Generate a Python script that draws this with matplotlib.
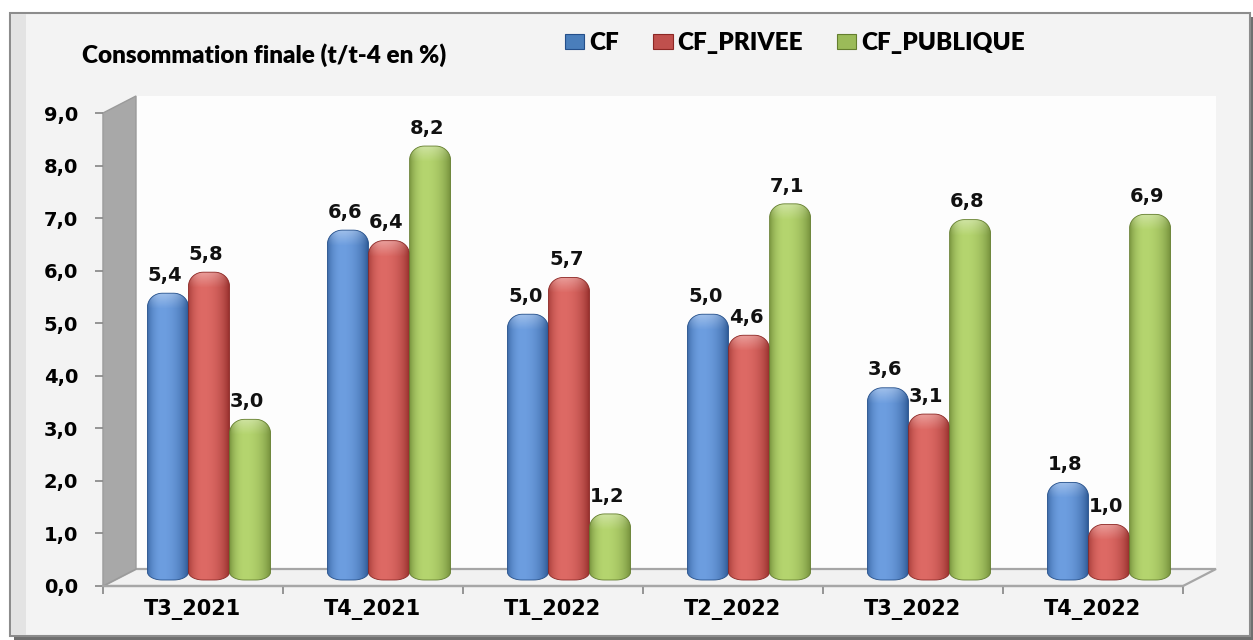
import numpy as np
import matplotlib
matplotlib.use('Agg')
import matplotlib.pyplot as plt
from matplotlib.patches import Polygon, Rectangle, PathPatch, Patch
from matplotlib.path import Path
from matplotlib.transforms import ScaledTranslation
import matplotlib.colors as mcolors

# ---------------- data ----------------
categories = ['T3_2021', 'T4_2021', 'T1_2022', 'T2_2022', 'T3_2022', 'T4_2022']
cf = [5.4, 6.6, 5.0, 5.0, 3.6, 1.8]
cf_privee = [5.8, 6.4, 5.7, 4.6, 3.1, 1.0]
cf_publique = [3.0, 8.2, 1.2, 7.1, 6.8, 6.9]
series_names = ['CF', 'CF_PRIVEE', 'CF_PUBLIQUE']
y_ticks = [0, 1, 2, 3, 4, 5, 6, 7, 8, 9]
title = 'Consommation finale (t/t-4 en %)'

series = [cf, cf_privee, cf_publique]
# (dark edge, light middle, legend colour)
palette = [('#244f8a', '#6d9ee0', '#4a7ebb'),
           ('#8c2724', '#de6a65', '#c0504d'),
           ('#647e2e', '#b5d56f', '#9bbb59')]

W, H = 1253, 640
fig = plt.figure(figsize=(W / 100, H / 100), dpi=100)
fig.patch.set_facecolor('white')

def fx(x):
    return x / W

def fy(y):
    return 1 - y / H

# plot box (front) in pixels and 3-D depth offset
L, R, T, B = 103, 1183, 113, 586
DX, DY = 33, 17

# ---------------- frame & walls ----------------
fig.add_artist(Rectangle((fx(14), fy(640)), fx(1253) - fx(14), fy(17) - fy(640),
                         transform=fig.transFigure, facecolor='#6f6f6f',
                         edgecolor='none', zorder=-10))
fig.add_artist(Rectangle((fx(10), fy(636)), fx(1250) - fx(10), fy(13) - fy(636),
                         transform=fig.transFigure, facecolor='#f3f3f3',
                         edgecolor='#8c8c8c', linewidth=1.5, zorder=-9))
fig.add_artist(Rectangle((fx(11), fy(635)), fx(26) - fx(11), fy(14) - fy(635),
                         transform=fig.transFigure, facecolor='#e3e3e3',
                         edgecolor='none', zorder=-8.5))
# back wall
fig.add_artist(Rectangle((fx(L + DX), fy(B - DY)), fx(R + DX) - fx(L + DX),
                         fy(T - DY) - fy(B - DY), transform=fig.transFigure,
                         facecolor='#fdfdfd', edgecolor='none', zorder=-8))
# floor
floor = [(L, B), (R, B), (R + DX, B - DY), (L + DX, B - DY)]
fig.add_artist(Polygon([(fx(a), fy(b)) for a, b in floor], closed=True,
                       transform=fig.transFigure, facecolor='#f1f1f1',
                       edgecolor='#a6a6a6', linewidth=1.6, zorder=-7))
# side wall
side = [(L, T), (L + DX, T - DY), (L + DX, B - DY), (L, B)]
fig.add_artist(Polygon([(fx(a), fy(b)) for a, b in side], closed=True,
                       transform=fig.transFigure, facecolor='#a8a8a8',
                       edgecolor='#9a9a9a', linewidth=1.0, zorder=-6))

# ---------------- axes ----------------
ax = fig.add_axes([fx(L), fy(B), (R - L) / W, (B - T) / H])
ax.patch.set_alpha(0)
ax.set_xlim(-0.5, len(categories) - 0.5)
ax.set_ylim(0, 9)
ax.set_autoscale_on(False)
for s in ['top', 'right']:
    ax.spines[s].set_visible(False)
ax.spines['left'].set_color('#a0a0a0')
ax.spines['bottom'].set_color('#a6a6a6')
ax.spines['bottom'].set_linewidth(1.6)

ax.set_yticks(y_ticks)
ax.set_yticklabels([f'{v:.1f}'.replace('.', ',') for v in y_ticks])
ax.tick_params(axis='y', length=6, width=1.3, color='#8c8c8c', pad=12,
               labelsize=14)
for lab in ax.get_yticklabels():
    lab.set_fontweight('bold')

x = np.arange(len(categories))
ax.set_xticks(np.arange(-0.5, len(categories), 1.0))
ax.set_xticklabels([])
ax.set_xticks(x, minor=True)
ax.set_xticklabels(categories, minor=True)
ax.tick_params(axis='x', which='major', length=6, width=1.3, color='#8c8c8c',
               direction='out')
ax.tick_params(axis='x', which='minor', length=0, pad=9, labelsize=15)
for lab in ax.get_xticklabels(minor=True):
    lab.set_fontweight('bold')

# bars sit in the middle depth of the 3-D box
bar_trans = ax.transData + ScaledTranslation(16 / 100, 9 / 100,
                                             fig.dpi_scale_trans)
px_per_unit_y = (B - T) / 9.0
bw = 0.228
rx = 0.36 * bw
ry_top = 14 / px_per_unit_y
ry_bot = 8 / px_per_unit_y
y_bottom = -3 / px_per_unit_y


def rounded_bar_path(x0, x1, y0, y1):
    n = 14
    verts = []
    verts.append((x0, y0 + ry_bot))
    verts.append((x0, y1 - ry_top))
    cx, cy = x0 + rx, y1 - ry_top
    for t in np.linspace(np.pi, np.pi / 2, n):
        verts.append((cx + rx * np.cos(t), cy + ry_top * np.sin(t)))
    cx, cy = x1 - rx, y1 - ry_top
    for t in np.linspace(np.pi / 2, 0, n):
        verts.append((cx + rx * np.cos(t), cy + ry_top * np.sin(t)))
    cx, cy = x1 - rx, y0 + ry_bot
    for t in np.linspace(0, -np.pi / 2, n):
        verts.append((cx + rx * np.cos(t), cy + ry_bot * np.sin(t)))
    cx, cy = x0 + rx, y0 + ry_bot
    for t in np.linspace(-np.pi / 2, -np.pi, n):
        verts.append((cx + rx * np.cos(t), cy + ry_bot * np.sin(t)))
    verts.append(verts[0])
    codes = [Path.MOVETO] + [Path.LINETO] * (len(verts) - 2) + [Path.CLOSEPOLY]
    return Path(verts, codes)


tt = np.linspace(0, 1, 96)
profile = np.clip(1 - ((tt - 0.36) / np.where(tt < 0.36, 0.40, 0.64)) ** 2, 0, 1)
profile = profile ** 0.7

for j, (vals, (dark, light, mid)) in enumerate(zip(series, palette)):
    d = np.array(mcolors.to_rgb(dark))
    l = np.array(mcolors.to_rgb(light))
    grad = d[None, :] + (l - d)[None, :] * profile[:, None]
    img = grad[None, :, :]
    for i, v in enumerate(vals):
        xc = x[i] + (j - 1) * bw
        x0, x1 = xc - bw / 2, xc + bw / 2
        path = rounded_bar_path(x0, x1, y_bottom, v)
        patch = PathPatch(path, facecolor='none', edgecolor=dark,
                          linewidth=0.6, transform=bar_trans, zorder=3)
        ax.add_patch(patch)
        im = ax.imshow(img, extent=(x0, x1, y_bottom, v), aspect='auto',
                       interpolation='bilinear', zorder=2)
        im.set_transform(bar_trans)
        im.set_clip_path(patch)
        # top highlight of the cylinder cap
        hl_h = 16 / px_per_unit_y
        alpha = np.linspace(0.0, 0.35, 32)[:, None] * np.ones((1, 96))
        alpha = alpha * profile[None, :]
        hl = np.ones((32, 96, 4))
        hl[..., 3] = alpha
        im2 = ax.imshow(hl, extent=(x0, x1, v - hl_h, v), aspect='auto',
                        interpolation='bilinear', zorder=2.5, origin='lower')
        im2.set_transform(bar_trans)
        im2.set_clip_path(patch)
        ax.annotate(f'{v:.1f}'.replace('.', ','), xy=(xc, v),
                    xycoords=bar_trans, xytext=(-2, 6),
                    textcoords='offset points', ha='center', va='bottom',
                    fontsize=14, fontweight='bold', color='#111111',
                    zorder=5, annotation_clip=False)

ax.set_xlim(-0.5, len(categories) - 0.5)
ax.set_ylim(0, 9)

# ---------------- title & legend ----------------
fig.text(fx(82), fy(55), title, fontsize=17.5, fontweight='heavy',
         family=['Lato', 'DejaVu Sans'], ha='left', va='center')

handles = [Patch(facecolor=p[2], edgecolor=p[0], linewidth=0.8) for p in palette]
fig.legend(handles, series_names, loc='center left',
           bbox_to_anchor=(fx(565), fy(43)), ncol=3, frameon=False,
           prop={'family': ['Lato', 'DejaVu Sans'], 'weight': 'heavy', 'size': 17.5},
           handlelength=0.8, handleheight=0.6, handletextpad=0.2,
           columnspacing=1.4, borderpad=0, borderaxespad=0)

fig.savefig('out.png', dpi=100, facecolor=fig.get_facecolor())
